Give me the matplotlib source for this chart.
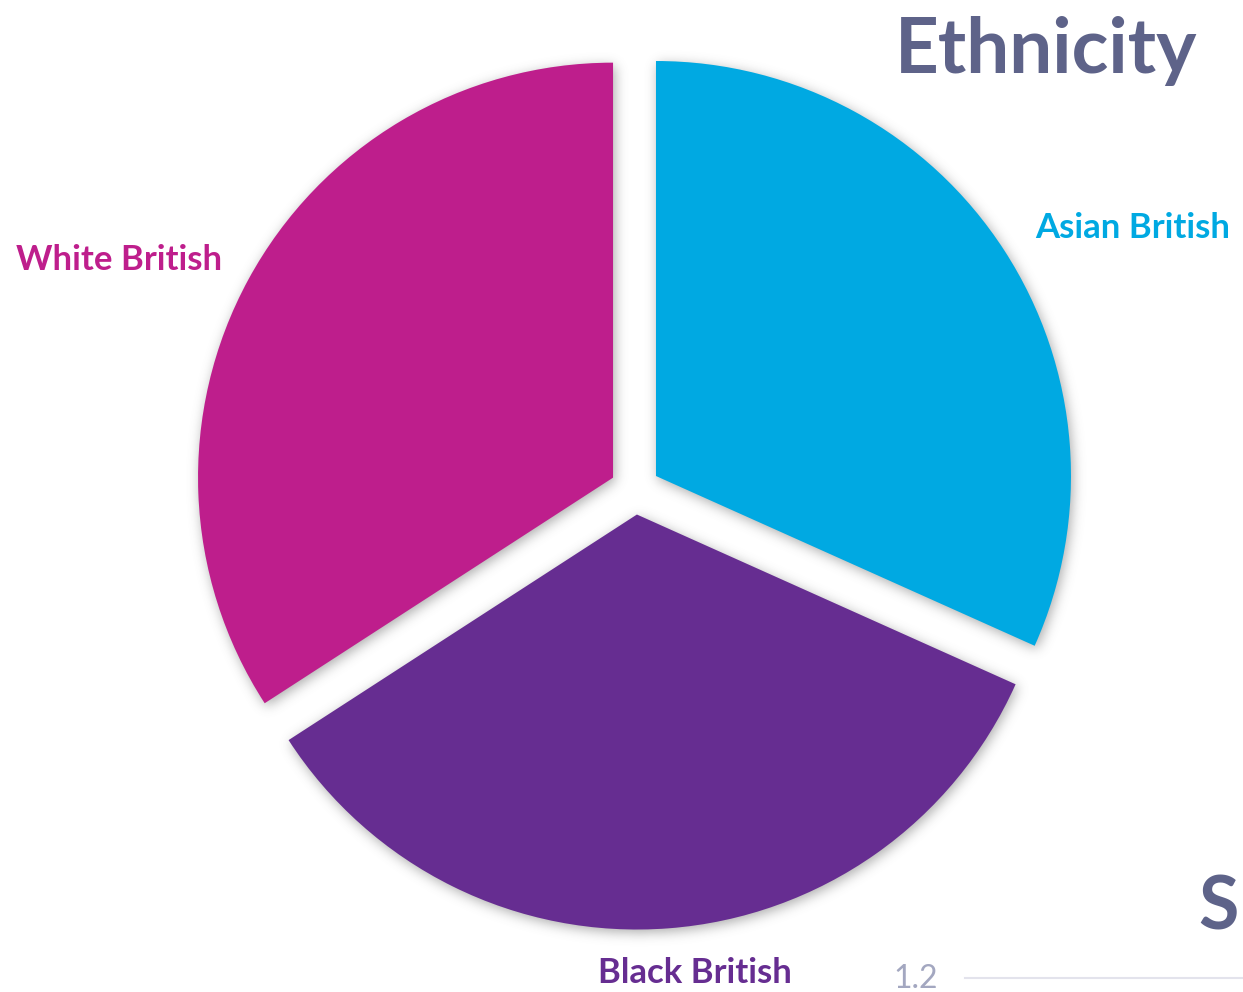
import numpy as np
import matplotlib
matplotlib.use("Agg")
import matplotlib.pyplot as plt

# ethnicity breakdown, drawn clockwise from 12 o'clock
labels = ["Asian British", "Black British", "White British"]
counts = [13, 14, 14]
colors = ["#00A9E2", "#662D91", "#BE1E8C"]

W, H = 1243, 992
fig = plt.figure(figsize=(W / 100, H / 100), dpi=100)
ax = fig.add_axes([0, 0, 1, 1])

cx, cy, r = 635, H - 489.6, 415
wedges, _ = ax.pie(counts, colors=colors, startangle=90, counterclock=False,
                   center=(cx, cy), radius=r, explode=[25, 25, 25],
                   wedgeprops=dict(linewidth=0, zorder=3))
ax.set_xlim(0, W)
ax.set_ylim(0, H)
ax.set_aspect("equal")
ax.axis("off")

# soft drop shadow: rasterise the wedges, blur, draw underneath
xs = np.arange(W) + 0.5
ys = np.arange(H) + 0.5
X, Y = np.meshgrid(xs - 2, ys + 3)
mask = np.zeros((H, W))
for w in wedges:
    wx, wy = w.center
    dx, dy = X - wx, Y - wy
    rr = np.hypot(dx, dy)
    ang = np.degrees(np.arctan2(dy, dx)) % 360
    span = (w.theta2 - w.theta1) % 360
    inside = (rr <= w.r) & (((ang - w.theta1) % 360) <= span)
    mask[inside] = 1.0

sigma = 6
k = np.arange(-3 * sigma, 3 * sigma + 1)
kern = np.exp(-k ** 2 / (2 * sigma ** 2))
kern /= kern.sum()
blur = np.apply_along_axis(lambda v: np.convolve(v, kern, mode="same"), 1, mask)
blur = np.apply_along_axis(lambda v: np.convolve(v, kern, mode="same"), 0, blur)

shadow = np.zeros((H, W, 4))
shadow[..., :3] = 0.35
shadow[..., 3] = 0.5 * blur
ax.imshow(shadow, extent=(0, W, 0, H), origin="lower", zorder=1,
          interpolation="bilinear")

lab_font = dict(family="Lato", fontweight="bold", fontsize=25)
ax.text(119, H - 260, "White British", color=colors[2], ha="center",
        va="center", **lab_font)
ax.text(1133, H - 228, "Asian British", color=colors[0], ha="center",
        va="center", **lab_font)
ax.text(695, H - 973, "Black British", color=colors[1], ha="center",
        va="center", **lab_font)

title_col = "#5E6389"
ax.text(1197, H - 73, "Ethnicity", color=title_col, ha="right",
        va="baseline", family="Lato", fontweight="bold", fontsize=55)
ax.text(1239, H - 930, "S", color=title_col, ha="right", va="baseline",
        family="Lato", fontweight="bold", fontsize=53)
ax.text(893, H - 988, "1.2", color="#A3A7C0", ha="left", va="baseline",
        family="Lato", fontweight="normal", fontsize=23)
ax.plot([965, W], [H - 978, H - 978], color="#E3E3EC", lw=1.5, zorder=2)

fig.savefig("out.png", dpi=100)
